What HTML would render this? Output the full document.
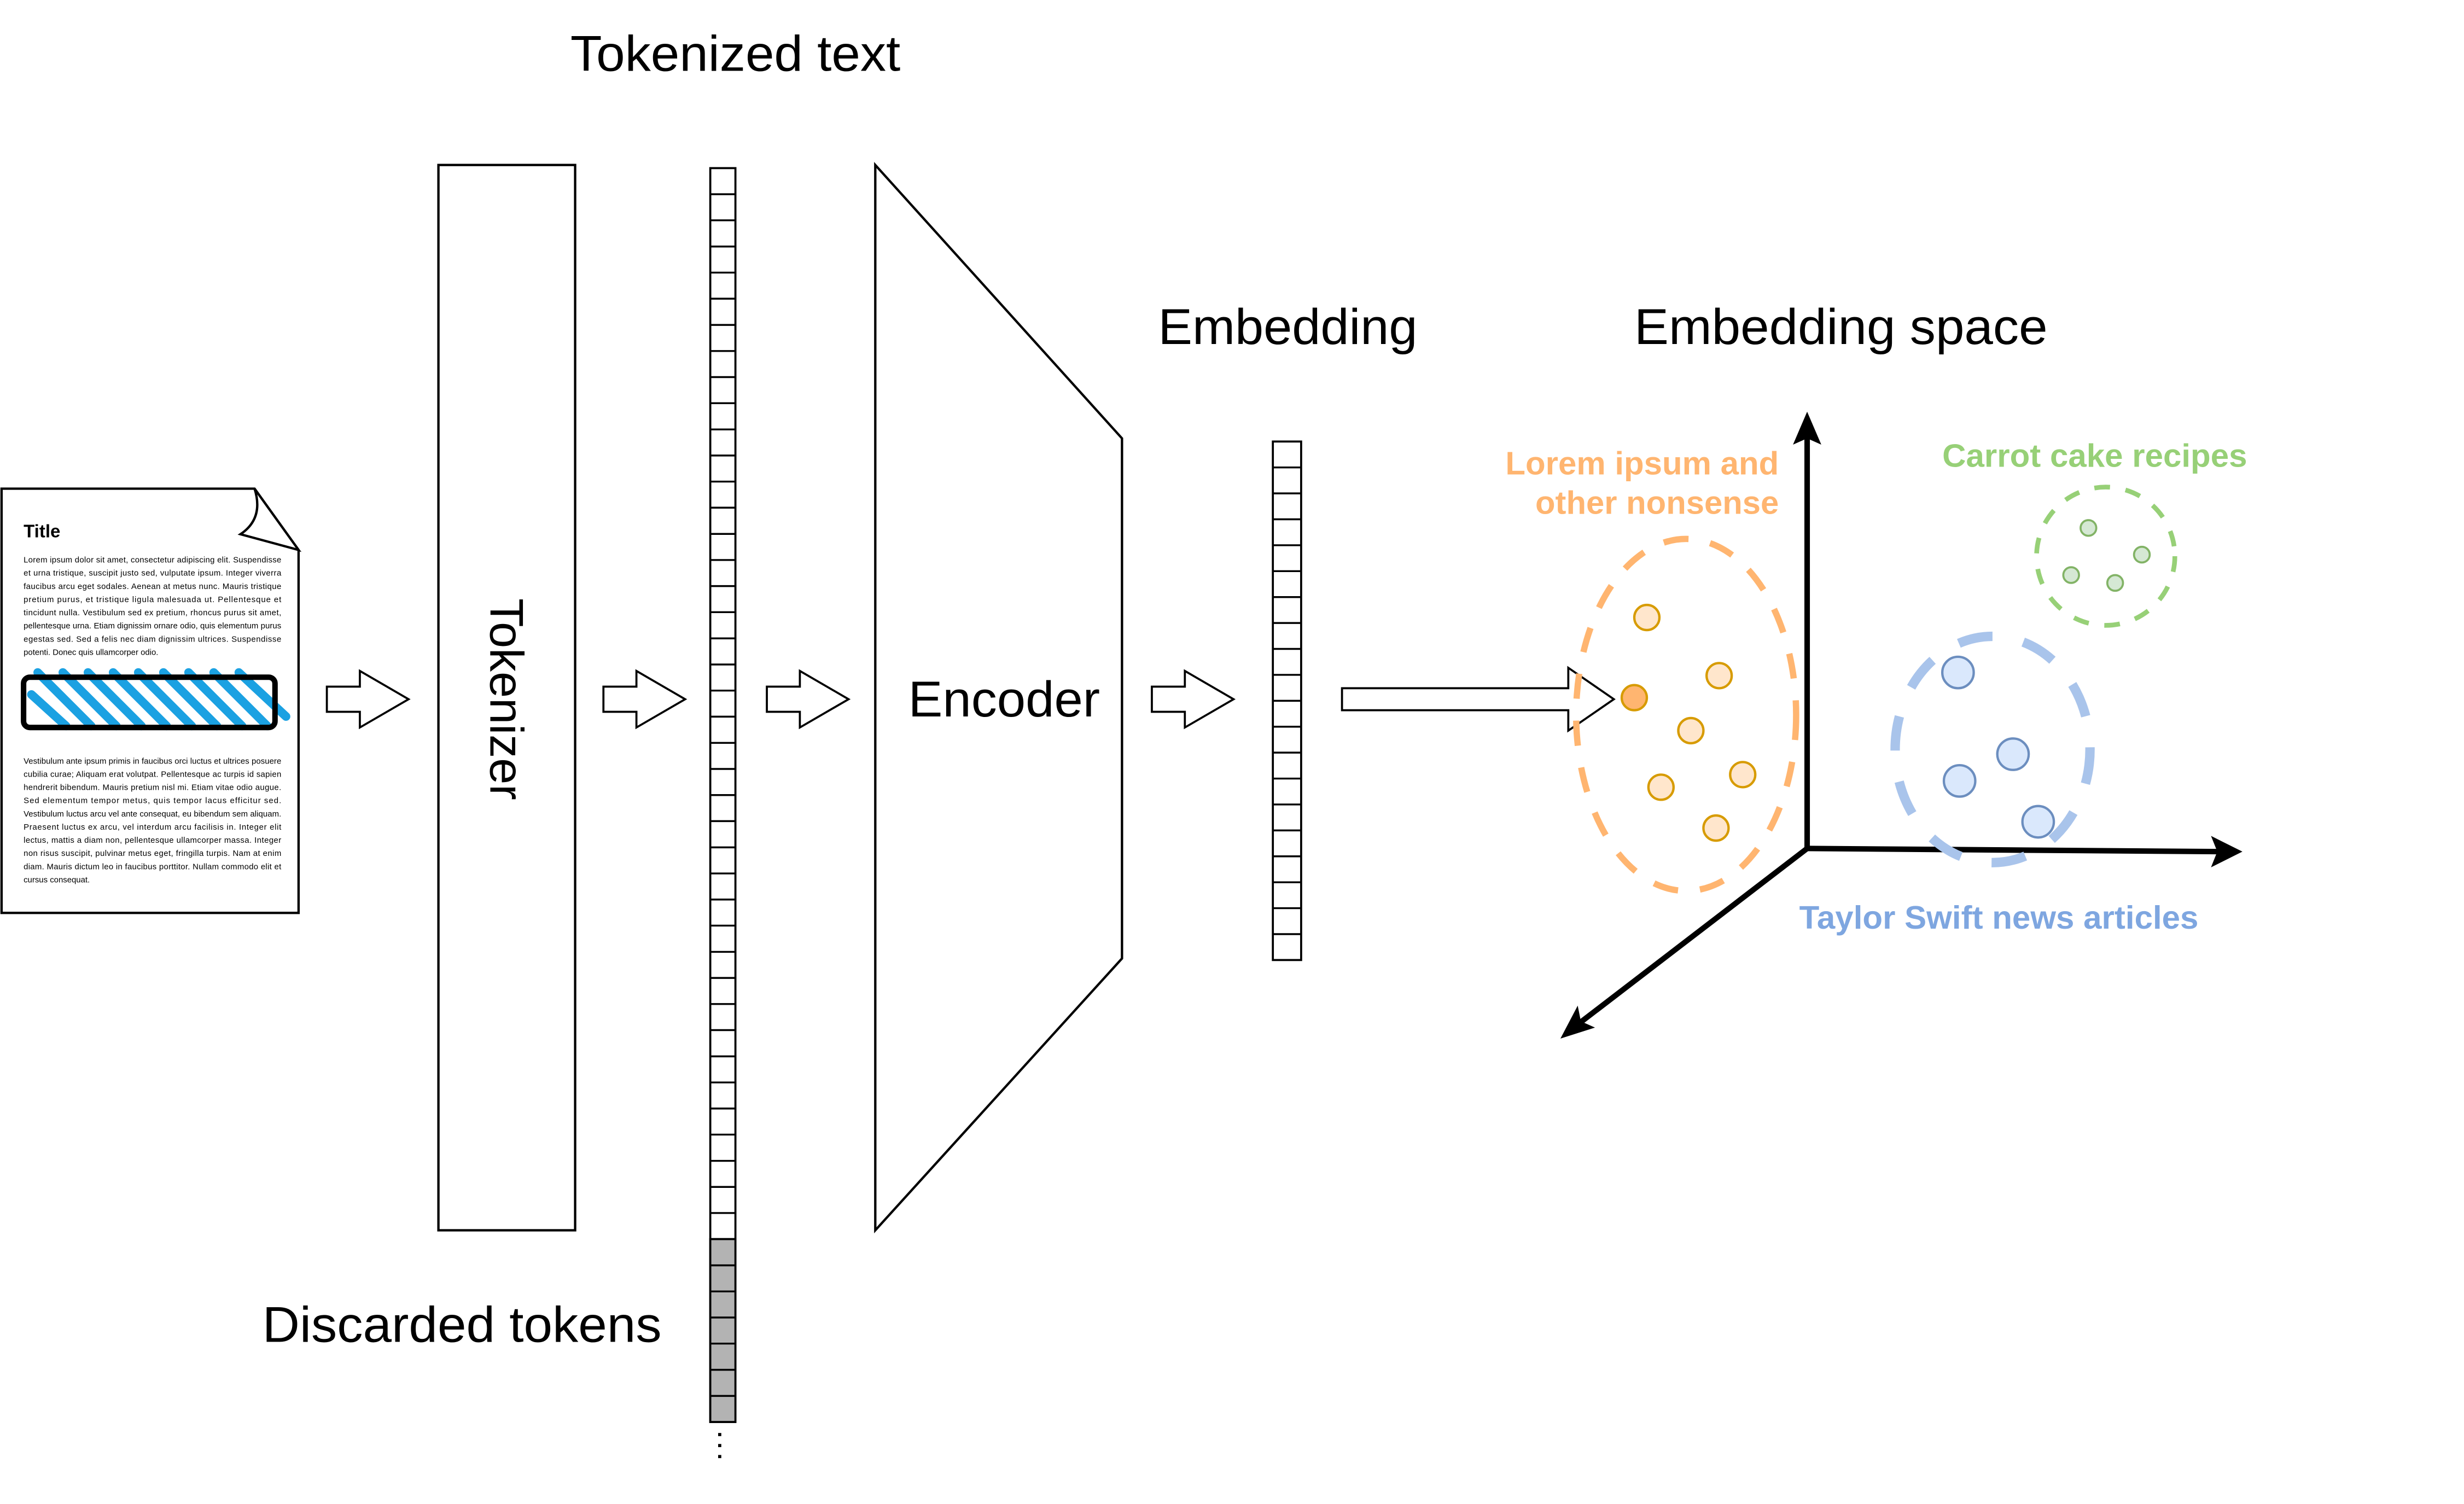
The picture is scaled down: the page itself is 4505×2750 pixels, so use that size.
<!DOCTYPE html>
<html><head><meta charset="utf-8"><style>
html,body{margin:0;padding:0;background:#fff;}
svg{display:block;}
text{font-family:"Liberation Sans",Helvetica,Arial,sans-serif;}
</style></head><body>
<svg width="4505" height="2750" viewBox="0 0 1568 957.2" preserveAspectRatio="none" xmlns="http://www.w3.org/2000/svg">
<rect width="1568" height="957.2" fill="#fff"/>
<!-- Document -->
<path d="M1,311 L162,311 L190,350 L190,581 L1,581 Z" fill="#fff" stroke="#000" stroke-width="1.5"/>
<path d="M162,311 Q168,330 153,340 L190,350 Z" fill="#fff" stroke="#000" stroke-width="1.5"/>
<text x="15" y="342" font-size="11.5" font-weight="bold">Title</text>
<g font-size="5.2" fill="#000">
<text x="15" y="358" textLength="164" lengthAdjust="spacing">Lorem ipsum dolor sit amet, consectetur adipiscing elit. Suspendisse</text>
<text x="15" y="366.4" textLength="164" lengthAdjust="spacing">et urna tristique, suscipit justo sed, vulputate ipsum. Integer viverra</text>
<text x="15" y="374.8" textLength="164" lengthAdjust="spacing">faucibus arcu eget sodales. Aenean at metus nunc. Mauris tristique</text>
<text x="15" y="383.2" textLength="164" lengthAdjust="spacing">pretium purus, et tristique ligula malesuada ut. Pellentesque et</text>
<text x="15" y="391.6" textLength="164" lengthAdjust="spacing">tincidunt nulla. Vestibulum sed ex pretium, rhoncus purus sit amet,</text>
<text x="15" y="400" textLength="164" lengthAdjust="spacing">pellentesque urna. Etiam dignissim ornare odio, quis elementum purus</text>
<text x="15" y="408.4" textLength="164" lengthAdjust="spacing">egestas sed. Sed a felis nec diam dignissim ultrices. Suspendisse</text>
<text x="15" y="416.8">potenti. Donec quis ullamcorper odio.</text>
<text x="15" y="486" textLength="164" lengthAdjust="spacing">Vestibulum ante ipsum primis in faucibus orci luctus et ultrices posuere</text>
<text x="15" y="494.4" textLength="164" lengthAdjust="spacing">cubilia curae; Aliquam erat volutpat. Pellentesque ac turpis id sapien</text>
<text x="15" y="502.8" textLength="164" lengthAdjust="spacing">hendrerit bibendum. Mauris pretium nisl mi. Etiam vitae odio augue.</text>
<text x="15" y="511.2" textLength="164" lengthAdjust="spacing">Sed elementum tempor metus, quis tempor lacus efficitur sed.</text>
<text x="15" y="519.6" textLength="164" lengthAdjust="spacing">Vestibulum luctus arcu vel ante consequat, eu bibendum sem aliquam.</text>
<text x="15" y="528" textLength="164" lengthAdjust="spacing">Praesent luctus ex arcu, vel interdum arcu facilisis in. Integer elit</text>
<text x="15" y="536.4" textLength="164" lengthAdjust="spacing">lectus, mattis a diam non, pellentesque ullamcorper massa. Integer</text>
<text x="15" y="544.8" textLength="164" lengthAdjust="spacing">non risus suscipit, pulvinar metus eget, fringilla turpis. Nam at enim</text>
<text x="15" y="553.2" textLength="164" lengthAdjust="spacing">diam. Mauris dictum leo in faucibus porttitor. Nullam commodo elit et</text>
<text x="15" y="561.6">cursus consequat.</text>
</g>
<g stroke="#1BA1E2" stroke-width="5.5" stroke-linecap="round">
<line x1="24" y1="428" x2="58" y2="462"/>
<line x1="40" y1="428" x2="74" y2="462"/>
<line x1="56" y1="428" x2="90" y2="462"/>
<line x1="72" y1="428" x2="106" y2="462"/>
<line x1="88" y1="428" x2="122" y2="462"/>
<line x1="104" y1="428" x2="138" y2="462"/>
<line x1="120" y1="428" x2="154" y2="462"/>
<line x1="136" y1="428" x2="170" y2="462"/>
<line x1="152" y1="428" x2="182" y2="456"/>
<line x1="20" y1="442" x2="42" y2="462"/>
</g>
<rect x="15" y="431" width="160" height="32" rx="4" fill="none" stroke="#000" stroke-width="3.5"/>
<!-- hollow arrows -->
<g fill="#fff" stroke="#000" stroke-width="1.3">
<path d="M208,437 L229,437 L229,427 L260,445 L229,463 L229,453 L208,453 Z"/>
<path d="M384,437 L405,437 L405,427 L436,445 L405,463 L405,453 L384,453 Z"/>
<path d="M488,437 L509,437 L509,427 L540,445 L509,463 L509,453 L488,453 Z"/>
<path d="M733,437 L754,437 L754,427 L785,445 L754,463 L754,453 L733,453 Z"/>
<path d="M854,438 L998,438 L998,425 L1027,445 L998,465 L998,452 L854,452 Z"/>
</g>
<!-- Tokenizer -->
<rect x="279" y="105" width="87" height="678" fill="#fff" stroke="#000" stroke-width="1.5"/>
<text x="322" y="445" font-size="30" text-anchor="middle" transform="rotate(90 322 445)" dy="10">Tokenizer</text>
<!-- Token column -->
<g stroke="#000" stroke-width="1.3">
<rect x="452" y="107" width="16" height="798" fill="#fff"/>
<rect x="452" y="788.6" width="16" height="116.4" fill="#b3b3b3"/>
</g>
<path stroke="#000" stroke-width="1.2" d="M452,123.6h16M452,140.2h16M452,156.9h16M452,173.5h16M452,190.1h16M452,206.8h16M452,223.4h16M452,240h16M452,256.6h16M452,273.3h16M452,289.9h16M452,306.5h16M452,323.1h16M452,339.8h16M452,356.4h16M452,373h16M452,389.6h16M452,406.3h16M452,422.9h16M452,439.5h16M452,456.1h16M452,472.8h16M452,489.4h16M452,506h16M452,522.6h16M452,539.3h16M452,555.9h16M452,572.5h16M452,589.1h16M452,605.8h16M452,622.4h16M452,639h16M452,655.6h16M452,672.3h16M452,688.9h16M452,705.5h16M452,722.1h16M452,738.8h16M452,755.4h16M452,772h16M452,788.6h16M452,805.3h16M452,821.9h16M452,838.5h16M452,855.1h16M452,871.8h16M452,888.4h16"/>
<g fill="#000"><rect x="457" y="912" width="2" height="2"/><rect x="457" y="919" width="2" height="2"/><rect x="457" y="926" width="2" height="2"/></g>
<!-- Encoder -->
<path d="M557,105 L714,279 L714,610 L557,783 Z" fill="#fff" stroke="#000" stroke-width="1.5"/>
<text x="578" y="456" font-size="32" textLength="122" lengthAdjust="spacingAndGlyphs">Encoder</text>
<!-- Embedding column -->
<rect x="810" y="281" width="18" height="330" fill="#fff" stroke="#000" stroke-width="1.3"/>
<path stroke="#000" stroke-width="1.2" d="M810,297.5h18M810,314h18M810,330.5h18M810,347h18M810,363.5h18M810,380h18M810,396.5h18M810,413h18M810,429.5h18M810,446h18M810,462.5h18M810,479h18M810,495.5h18M810,512h18M810,528.5h18M810,545h18M810,561.5h18M810,578h18M810,594.5h18"/>
<!-- labels -->
<g font-size="32">
<text x="363" y="45" textLength="210" lengthAdjust="spacingAndGlyphs">Tokenized text</text>
<text x="737" y="219" textLength="165" lengthAdjust="spacingAndGlyphs">Embedding</text>
<text x="1040" y="219" textLength="263" lengthAdjust="spacingAndGlyphs">Embedding space</text>
<text x="167" y="854" textLength="254" lengthAdjust="spacingAndGlyphs">Discarded tokens</text>
</g>
<!-- axes -->
<g stroke="#000" stroke-width="3.5" fill="none">
<line x1="1150" y1="540" x2="1150" y2="278"/>
<line x1="1150" y1="540" x2="1412" y2="542"/>
<line x1="1150" y1="540" x2="1004" y2="652"/>
</g>
<path d="M1150,262 L1141,283 L1150,279 L1159,283 Z" fill="#000"/>
<path d="M1427,542 L1407,532 L1411,542 L1407,552 Z" fill="#000"/>
<path d="M993,661 L1015,654 L1006,650 L1004,640 Z" fill="#000"/>
<!-- clusters -->
<ellipse cx="1073" cy="455" rx="70" ry="112" fill="none" stroke="#FFB570" stroke-width="4" stroke-dasharray="16,14"/>
<g fill="#ffe6cc" stroke="#d79b00" stroke-width="1.5">
<circle cx="1048" cy="393" r="8"/><circle cx="1094" cy="430" r="8"/><circle cx="1076" cy="465" r="8"/>
<circle cx="1109" cy="493" r="8"/><circle cx="1057" cy="501" r="8"/><circle cx="1092" cy="527" r="8"/>
<circle cx="1040" cy="444" r="8" fill="#FFB570"/>
</g>
<ellipse cx="1340" cy="354" rx="44" ry="44" fill="none" stroke="#97D077" stroke-width="3" stroke-dasharray="10,10"/>
<g fill="#d5e8d4" stroke="#82b366" stroke-width="1.3">
<circle cx="1329" cy="336" r="5"/><circle cx="1363" cy="353" r="5"/><circle cx="1318" cy="366" r="5"/><circle cx="1346" cy="371" r="5"/>
</g>
<ellipse cx="1268" cy="477" rx="62" ry="72" fill="none" stroke="#A9C4EB" stroke-width="6" stroke-dasharray="22,20"/>
<g fill="#dae8fc" stroke="#6c8ebf" stroke-width="1.5">
<circle cx="1246" cy="428" r="10"/><circle cx="1281" cy="480" r="10"/><circle cx="1247" cy="497" r="10"/><circle cx="1297" cy="523" r="10"/>
</g>
<g font-size="20.5" font-weight="bold">
<text x="958" y="302" textLength="174" lengthAdjust="spacingAndGlyphs" fill="#FFB570">Lorem ipsum and</text>
<text x="977" y="327" textLength="155" lengthAdjust="spacingAndGlyphs" fill="#FFB570">other nonsense</text>
<text x="1236" y="297" textLength="194" lengthAdjust="spacingAndGlyphs" fill="#97D077">Carrot cake recipes</text>
<text x="1145" y="591" textLength="254" lengthAdjust="spacingAndGlyphs" fill="#7EA6E0">Taylor Swift news articles</text>
</g>
</svg>
</body></html>
